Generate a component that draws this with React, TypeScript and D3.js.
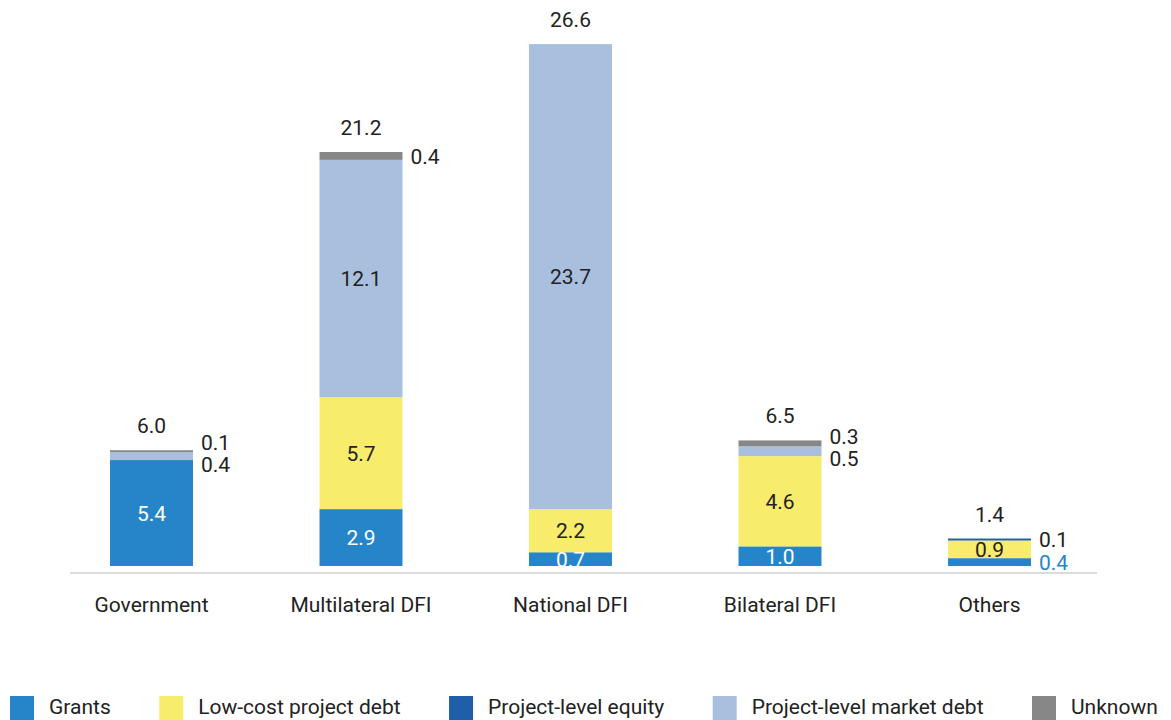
import React, { useEffect, useRef } from "react";
import * as d3 from "d3";

const categories = ["Government", "Multilateral DFI", "National DFI", "Bilateral DFI", "Others"];
const seriesNames = ["Grants", "Low-cost project debt", "Project-level equity", "Project-level market debt", "Unknown"];
const grants = [5.4, 2.9, 0.7, 1.0, 0.4];
const lowCostDebt = [0, 5.7, 2.2, 4.6, 0.9];
const equity = [0, 0, 0, 0, 0.1];
const marketDebt = [0.4, 12.1, 23.7, 0.5, 0];
const unknown = [0.1, 0.4, 0, 0.3, 0];
const totals = [6.0, 21.2, 26.6, 6.5, 1.4];
const seriesColors = ["#2685C8", "#F7EC6B", "#1F5EA8", "#A8BFDD", "#878787"];
const insideTextColors = ["#ffffff", "#222222", "#ffffff", "#222222", "#ffffff"];

const keys = ["grants", "lowCostDebt", "equity", "marketDebt", "unknown"];
const FONT = "Roboto, 'Noto Sans', sans-serif";
const TEXT = "#222222";
const FS = 21;

export default function App() {
  const ref = useRef<SVGSVGElement>(null);

  useEffect(() => {
    const svg = d3.select(ref.current);
    svg.selectAll("*").remove();

    const x = d3
      .scaleBand<string>()
      .domain(categories)
      .range([46.75, 1094.25])
      .paddingInner(0.604)
      .paddingOuter(0.302);
    const y = d3.scaleLinear().domain([0, 28]).range([566, 566 - 28 * 19.62]);

    const rows = categories.map((c, i) => ({
      category: c,
      grants: grants[i],
      lowCostDebt: lowCostDebt[i],
      equity: equity[i],
      marketDebt: marketDebt[i],
      unknown: unknown[i],
    }));
    const stacked = d3.stack<any>().keys(keys)(rows);

    // axis line
    svg
      .append("line")
      .attr("x1", 70)
      .attr("x2", 1097)
      .attr("y1", 573)
      .attr("y2", 573)
      .attr("stroke", "#cfcfcf")
      .attr("stroke-width", 1.5);

    // bars
    stacked.forEach((layer, si) => {
      svg
        .append("g")
        .selectAll("rect")
        .data(layer.filter((d) => d[1] - d[0] > 0))
        .join("rect")
        .attr("x", (d: any) => x(d.data.category)!)
        .attr("width", x.bandwidth())
        .attr("y", (d: any) => y(d[1]))
        .attr("height", (d: any) => y(d[0]) - y(d[1]))
        .attr("fill", seriesColors[si]);
    });

    // labels
    categories.forEach((c, ci) => {
      const bx = x(c)!;
      const bw = x.bandwidth();
      const outside: { target: number; text: string; color: string; pos?: number }[] = [];
      stacked.forEach((layer, si) => {
        const d = layer[ci];
        const v = d[1] - d[0];
        if (v <= 0) return;
        const top = y(d[1]);
        const bot = y(d[0]);
        const h = bot - top;
        const label = d3.format(".1f")(v);
        if (h >= 12) {
          svg
            .append("text")
            .attr("x", bx + bw / 2)
            .attr("y", (top + bot) / 2)
            .attr("dy", "0.36em")
            .attr("text-anchor", "middle")
            .attr("font-family", FONT)
            .attr("font-size", FS)
            .attr("fill", insideTextColors[si])
            .text(label);
        } else {
          outside.push({
            target: (top + bot) / 2,
            text: label,
            color: si === 0 ? seriesColors[0] : TEXT,
          });
        }
      });
      // resolve overlaps
      outside.sort((a, b) => a.target - b.target);
      const gap = 22;
      let clusters = outside.map((o) => ({ items: [o], center: o.target }));
      let merged = true;
      while (merged) {
        merged = false;
        for (let k = 0; k < clusters.length - 1; k++) {
          const A = clusters[k];
          const B = clusters[k + 1];
          const aLast = A.center + ((A.items.length - 1) * gap) / 2;
          const bFirst = B.center - ((B.items.length - 1) * gap) / 2;
          if (bFirst - aLast < gap) {
            const items = [...A.items, ...B.items];
            const center = d3.mean(items, (o) => o.target)!;
            clusters.splice(k, 2, { items, center });
            merged = true;
            break;
          }
        }
      }
      clusters.forEach((cl) => {
        cl.items.forEach((o, k) => {
          o.pos = cl.center - ((cl.items.length - 1) * gap) / 2 + k * gap;
        });
      });
      outside.forEach((o) => {
        svg
          .append("text")
          .attr("x", bx + bw + 8)
          .attr("y", o.pos!)
          .attr("dy", "0.36em")
          .attr("font-family", FONT)
          .attr("font-size", FS)
          .attr("fill", o.color)
          .text(o.text);
      });

      // total
      const stackTop = stacked[stacked.length - 1][ci][1];
      svg
        .append("text")
        .attr("x", bx + bw / 2)
        .attr("y", y(stackTop) - 17)
        .attr("text-anchor", "middle")
        .attr("font-family", FONT)
        .attr("font-size", FS)
        .attr("fill", TEXT)
        .text(d3.format(".1f")(totals[ci]));

      // category label
      svg
        .append("text")
        .attr("x", bx + bw / 2)
        .attr("y", 612)
        .attr("text-anchor", "middle")
        .attr("font-family", FONT)
        .attr("font-size", FS)
        .attr("fill", TEXT)
        .text(c);
    });

    // legend
    let cursor = 10;
    seriesNames.forEach((name, i) => {
      svg
        .append("rect")
        .attr("x", cursor)
        .attr("y", 696)
        .attr("width", 24)
        .attr("height", 24)
        .attr("fill", seriesColors[i]);
      const t = svg
        .append("text")
        .attr("x", cursor + 39)
        .attr("y", 714)
        .attr("font-family", FONT)
        .attr("font-size", FS)
        .attr("fill", TEXT)
        .text(name);
      const len = (t.node() as SVGTextElement).getComputedTextLength();
      cursor += 39 + len + 48.5;
    });
  }, []);

  return (
    <div style={{ position: "fixed", left: 0, top: 0 }}>
      <svg ref={ref} width={1171} height={720} style={{ display: "block", background: "#ffffff" }} />
    </div>
  );
}
